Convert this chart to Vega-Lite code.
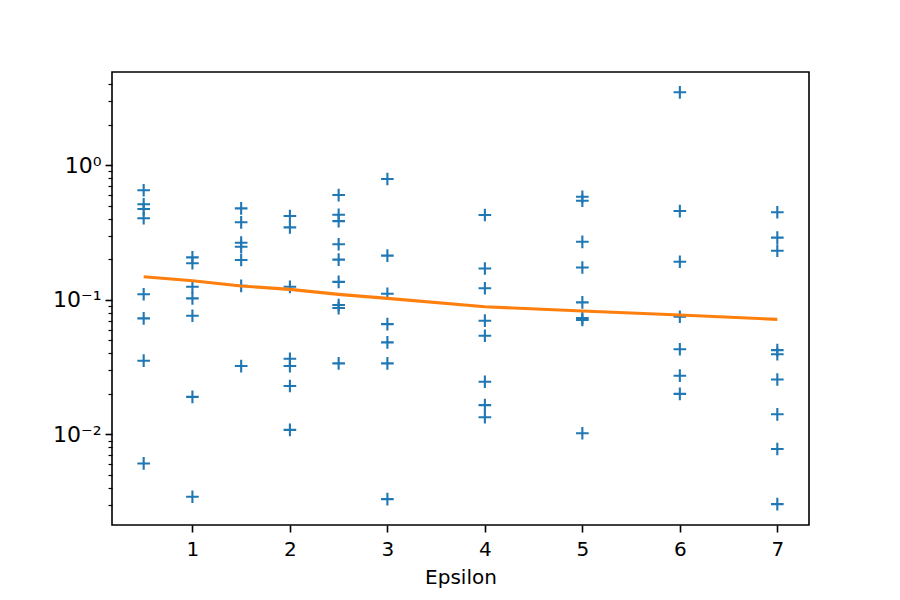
{
  "$schema": "https://vega.github.io/schema/vega-lite/v6.json",
  "autosize": "none",
  "width": 697,
  "height": 453,
  "padding": {"left": 112, "top": 72, "right": 91, "bottom": 75},
  "background": "white",
  "config": {
    "view": {"stroke": "black", "strokeWidth": 1.6},
    "axis": {
      "grid": false,
      "domain": false,
      "tickColor": "black",
      "tickWidth": 1.6,
      "tickSize": 7,
      "labelPadding": 7,
      "labelColor": "black",
      "labelFont": "DejaVu Sans",
      "labelFontSize": 20,
      "titleFont": "DejaVu Sans",
      "titleFontSize": 20,
      "titleFontWeight": "normal",
      "titleColor": "black"
    }
  },
  "datasets": {
    "runs": [
      {"epsilon": 0.5, "error": 0.653}, {"epsilon": 0.5, "error": 0.513}, {"epsilon": 0.5, "error": 0.473}, {"epsilon": 0.5, "error": 0.404},
      {"epsilon": 0.5, "error": 0.110}, {"epsilon": 0.5, "error": 0.0728}, {"epsilon": 0.5, "error": 0.0353}, {"epsilon": 0.5, "error": 0.00608},
      {"epsilon": 1, "error": 0.207}, {"epsilon": 1, "error": 0.187}, {"epsilon": 1, "error": 0.125}, {"epsilon": 1, "error": 0.1026},
      {"epsilon": 1, "error": 0.0762}, {"epsilon": 1, "error": 0.0190}, {"epsilon": 1, "error": 0.00344},
      {"epsilon": 1.5, "error": 0.479}, {"epsilon": 1.5, "error": 0.377}, {"epsilon": 1.5, "error": 0.266}, {"epsilon": 1.5, "error": 0.248},
      {"epsilon": 1.5, "error": 0.198}, {"epsilon": 1.5, "error": 0.127}, {"epsilon": 1.5, "error": 0.0322},
      {"epsilon": 2, "error": 0.420}, {"epsilon": 2, "error": 0.346}, {"epsilon": 2, "error": 0.125}, {"epsilon": 2, "error": 0.0365},
      {"epsilon": 2, "error": 0.0322}, {"epsilon": 2, "error": 0.0229}, {"epsilon": 2, "error": 0.0108},
      {"epsilon": 2.5, "error": 0.601}, {"epsilon": 2.5, "error": 0.429}, {"epsilon": 2.5, "error": 0.385}, {"epsilon": 2.5, "error": 0.259},
      {"epsilon": 2.5, "error": 0.199}, {"epsilon": 2.5, "error": 0.136}, {"epsilon": 2.5, "error": 0.0915}, {"epsilon": 2.5, "error": 0.0869},
      {"epsilon": 2.5, "error": 0.0337},
      {"epsilon": 3, "error": 0.791}, {"epsilon": 3, "error": 0.213}, {"epsilon": 3, "error": 0.111}, {"epsilon": 3, "error": 0.0660},
      {"epsilon": 3, "error": 0.0483}, {"epsilon": 3, "error": 0.0337}, {"epsilon": 3, "error": 0.00330},
      {"epsilon": 4, "error": 0.427}, {"epsilon": 4, "error": 0.171}, {"epsilon": 4, "error": 0.122}, {"epsilon": 4, "error": 0.0700},
      {"epsilon": 4, "error": 0.0541}, {"epsilon": 4, "error": 0.0246}, {"epsilon": 4, "error": 0.0165}, {"epsilon": 4, "error": 0.0134},
      {"epsilon": 5, "error": 0.584}, {"epsilon": 5, "error": 0.545}, {"epsilon": 5, "error": 0.270}, {"epsilon": 5, "error": 0.174},
      {"epsilon": 5, "error": 0.0958}, {"epsilon": 5, "error": 0.0732}, {"epsilon": 5, "error": 0.0708}, {"epsilon": 5, "error": 0.0102},
      {"epsilon": 6, "error": 3.49}, {"epsilon": 6, "error": 0.457}, {"epsilon": 6, "error": 0.192}, {"epsilon": 6, "error": 0.0749},
      {"epsilon": 6, "error": 0.0429}, {"epsilon": 6, "error": 0.0273}, {"epsilon": 6, "error": 0.0200},
      {"epsilon": 7, "error": 0.448}, {"epsilon": 7, "error": 0.290}, {"epsilon": 7, "error": 0.232}, {"epsilon": 7, "error": 0.0423},
      {"epsilon": 7, "error": 0.0394}, {"epsilon": 7, "error": 0.0256}, {"epsilon": 7, "error": 0.0141}, {"epsilon": 7, "error": 0.00778},
      {"epsilon": 7, "error": 0.00303}
    ],
    "mean": [
      {"epsilon": 0.5, "error": 0.1485},
      {"epsilon": 1, "error": 0.1387},
      {"epsilon": 1.5, "error": 0.1267},
      {"epsilon": 2, "error": 0.1197},
      {"epsilon": 2.5, "error": 0.1099},
      {"epsilon": 3, "error": 0.1026},
      {"epsilon": 4, "error": 0.0889},
      {"epsilon": 5, "error": 0.0826},
      {"epsilon": 6, "error": 0.0771},
      {"epsilon": 7, "error": 0.0716}
    ]
  },
  "layer": [
    {
      "data": {"name": "runs"},
      "mark": {
        "type": "point",
        "shape": "M-1,0L1,0M0,-1L0,1",
        "filled": false,
        "stroke": "#1f77b4",
        "strokeWidth": 2.1,
        "size": 160,
        "opacity": 1
      },
      "encoding": {
        "x": {
          "field": "epsilon",
          "type": "quantitative",
          "scale": {"domain": [0.175, 7.325], "nice": false, "zero": false},
          "axis": {"title": "Epsilon", "values": [1, 2, 3, 4, 5, 6, 7], "format": "d", "labelAngle": 0, "titlePadding": 8}
        },
        "y": {
          "field": "error",
          "type": "quantitative",
          "scale": {"type": "log", "domain": [0.00212, 4.94], "nice": false},
          "axis": {
            "title": null,
            "orient": "left",
            "values": [0.01, 0.1, 1],
            "labelFontSize": 22,
            "labelPadding": 4,
            "labelExpr": "datum.value >= 0.5 ? '10⁰' : datum.value >= 0.05 ? '10⁻¹' : '10⁻²'"
          }
        }
      }
    },
    {
      "data": {"name": "mean"},
      "mark": {"type": "line", "color": "#ff7f0e", "strokeWidth": 3.1},
      "encoding": {
        "x": {"field": "epsilon", "type": "quantitative"},
        "y": {
          "field": "error",
          "type": "quantitative",
          "axis": {
            "title": null,
            "orient": "left",
            "labels": false,
            "tickSize": 4,
            "tickWidth": 1.2,
            "values": [0.003, 0.004, 0.005, 0.006, 0.007, 0.008, 0.009, 0.02, 0.03, 0.04, 0.05, 0.06, 0.07, 0.08, 0.09, 0.2, 0.3, 0.4, 0.5, 0.6, 0.7, 0.8, 0.9, 2, 3, 4]
          }
        }
      }
    }
  ],
  "resolve": {"axis": {"y": "independent"}}
}
